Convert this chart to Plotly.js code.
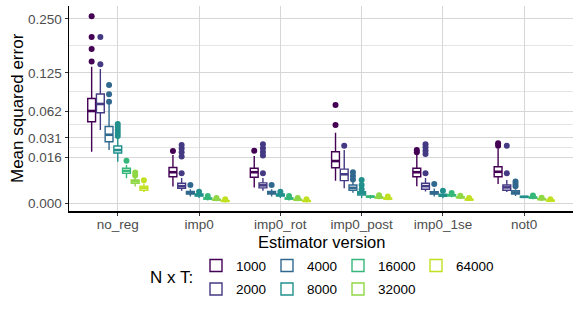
<!DOCTYPE html>
<html>
<head>
<meta charset="utf-8">
<script src="https://cdn.plot.ly/plotly-3.0.1.min.js"></script>
<style>html,body{margin:0;padding:0;background:#fff;}#chart{width:581px;height:309px;}</style>
</head>
<body>
<div id="chart"></div>
<script>
// Estimator versions (x categories)
const categories = ['no_reg','imp0','imp0_rot','imp0_post','imp0_1se','not0'];
// N x T groups
const nxt = ['1000','2000','4000','8000','16000','32000','64000'];
const colors = ['#440154','#443A83','#31688E','#21908C','#35B779','#8FD744','#C2E022'];

// Box statistics (mean squared error), rows = N x T group, columns = category
const lowerFence = [
  [0.0194, 0.0020, 0.0018, 0.0037, 0.0021, 0.0027],
  [0.0394, 0.0011, 0.0011, 0.0016, 0.00098, 0.0009],
  [0.0207, 0.00031, 0.00031, 0.00078, 0.00031, 0.00036],
  [0.0126, 0.00018, 0.00018, 0.00018, 0.000163, 0.00018],
  [0.0045, 0.00005, 0.00005, 0.00013, 0.00025, 0.0001],
  [0.0020, 0.00002, 0.00002, 0.0001, 0.00012, 0.00005],
  [0.0009, 0.000005, 0.000005, 0.00006, 0.00003, 0.00001]
];
const q1 = [
  [0.0488, 0.0051, 0.0049, 0.0092, 0.0051, 0.0051],
  [0.0602, 0.0016, 0.0017, 0.0037, 0.0014, 0.0012],
  [0.0277, 0.0006, 0.0006, 0.0012, 0.0006, 0.0006],
  [0.0185, 0.00036, 0.00036, 0.00047, 0.00033, 0.00025],
  [0.0065, 0.00012, 0.00012, 0.00026, 0.00038, 0.00018],
  [0.0029, 0.00006, 0.00006, 0.00018, 0.0002, 0.00009],
  [0.0012, 0.00002, 0.00002, 0.00011, 0.00007, 0.00003]
];
const median = [
  [0.0625, 0.0070, 0.0070, 0.0130, 0.0070, 0.0072],
  [0.0724, 0.0021, 0.0023, 0.0061, 0.0021, 0.0018],
  [0.0344, 0.00077, 0.0008, 0.0017, 0.00074, 0.00081],
  [0.0207, 0.00047, 0.00047, 0.00069, 0.00044, 0.00028],
  [0.0076, 0.00015, 0.00015, 0.0003, 0.00044, 0.00022],
  [0.0035, 0.00008, 0.00008, 0.00022, 0.00024, 0.00011],
  [0.0017, 0.00003, 0.00003, 0.00014, 0.00009, 0.00004]
];
const q3 = [
  [0.0806, 0.0093, 0.0089, 0.0194, 0.0089, 0.0097],
  [0.0877, 0.0029, 0.0030, 0.0085, 0.0029, 0.0024],
  [0.0432, 0.00098, 0.001, 0.0024, 0.00094, 0.0011],
  [0.0240, 0.0006, 0.0006, 0.00094, 0.00056, 0.00031],
  [0.0089, 0.00019, 0.00019, 0.00034, 0.0005, 0.00026],
  [0.0039, 0.0001, 0.0001, 0.00026, 0.00027, 0.00013],
  [0.0021, 0.00004, 0.00004, 0.00017, 0.00011, 0.00006]
];
const upperFence = [
  [0.1372, 0.0170, 0.0163, 0.0365, 0.0170, 0.0220],
  [0.1326, 0.0046, 0.0046, 0.0207, 0.0046, 0.0039],
  [0.0724, 0.0014, 0.0014, 0.0033, 0.00155, 0.0014],
  [0.0312, 0.00074, 0.00074, 0.00115, 0.00069, 0.0004],
  [0.0107, 0.00026, 0.00026, 0.00048, 0.0006, 0.00032],
  [0.0046, 0.00014, 0.00014, 0.00035, 0.00033, 0.00016],
  [0.0028, 0.00007, 0.00007, 0.00024, 0.00014, 0.00008]
];
const outliers = [
  [[0.1479,0.1751,0.2035,0.2574],[0.0200],[0.0202],[0.0449,0.0709],[0.0190,0.0207],[0.0242,0.0263]],
  [[0.1423,0.2035],[0.0065,0.0160,0.0190,0.0219,0.0248],[0.0065,0.0167,0.0192,0.0221,0.0254],[0.0242],[0.0065,0.0177,0.0202,0.0229,0.0254],[0.0065,0.0242]],
  [[0.0758,0.0873,0.1028],[0.0024],[0.0024],[0.0041,0.0054,0.0070],[0.0027],[0.0021,0.0027,0.0034]],
  [[0.0331,0.0362,0.0394,0.0427,0.0461],[0.00094],[0.00094],[0.0014,0.0024,0.0039],[0.0011],[]],
  [[0.0132],[0.00036],[0.00036],[],[0.00075],[0.00042]],
  [[0.0056,0.0069],[0.00019],[0.00019],[0.00045],[0.0004],[0.0002]],
  [[0.0038],[0.0001],[0.0001],[0.00032],[0.00018],[0.00011]]
];
// y tick values (sqrt scale)
const yTicks = [0, 0.015625, 0.03125, 0.0625, 0.125, 0.25];
const yTickText = ['0.000','0.016','0.031','0.062','0.125','0.250'];

const sq = v => Math.sqrt(v);
const dodge = 0.75 / nxt.length;
const boxW = dodge * 0.9;
const legendIds = ['legend','legend2','legend3','legend4','legend5','legend6','legend7'];

const traces = [];
nxt.forEach((name, g) => {
  const xs = categories.map((c, i) => i + 1 + (g - (nxt.length - 1) / 2) * dodge);
  traces.push({
    type: 'box', orientation: 'v', name: name, x: xs,
    q1: q1[g].map(sq), median: median[g].map(sq), q3: q3[g].map(sq),
    lowerfence: lowerFence[g].map(sq), upperfence: upperFence[g].map(sq),
    boxpoints: false, width: boxW, whiskerwidth: 0,
    line: {color: colors[g], width: 1.4}, fillcolor: '#ffffff',
    legend: legendIds[g], hoverinfo: 'skip'
  });
  // thicker median bars, as in the reference
  const mx = [], my = [];
  xs.forEach((x, i) => { mx.push(x - boxW / 2, x + boxW / 2, null); const m = sq(median[g][i]); my.push(m, m, null); });
  traces.push({
    type: 'scatter', mode: 'lines', x: mx, y: my, showlegend: false,
    line: {color: colors[g], width: 2.6}, hoverinfo: 'skip'
  });
  const ox = [], oy = [];
  outliers[g].forEach((arr, i) => arr.forEach(v => { ox.push(xs[i]); oy.push(sq(v)); }));
  traces.push({
    type: 'scatter', mode: 'markers', x: ox, y: oy, showlegend: false,
    marker: {color: colors[g], size: 6}, hoverinfo: 'skip'
  });
});

const sqTicks = yTicks.map(sq);
const minorVals = [];
for (let i = 1; i < sqTicks.length - 1; i++) minorVals.push((sqTicks[i] + sqTicks[i + 1]) / 2);

const font = 'Liberation Sans, Arial, sans-serif';
const layout = {
  width: 581, height: 309,
  margin: {l: 69, r: 8, t: 6, b: 98, autoexpand: false},
  paper_bgcolor: '#ffffff', plot_bgcolor: '#ffffff',
  font: {family: font, color: '#000'},
  showlegend: true, hovermode: false, boxmode: 'overlay',
  xaxis: {
    type: 'linear', autorange: false,
    range: [0.4, 6.6], tickmode: 'array', tickvals: categories.map((c, i) => i + 1), ticktext: categories,
    showgrid: true, gridcolor: '#d6d6d6', gridwidth: 1, zeroline: false,
    showline: true, linecolor: '#000', linewidth: 1.5,
    ticks: 'outside', ticklen: 3, tickcolor: '#333', tickwidth: 1, ticklabelstandoff: -3,
    tickfont: {size: 13.5, color: '#4d4d4d'}
  },
  yaxis: {
    type: 'linear', autorange: false,
    range: [-0.0217, 0.5353], tickmode: 'array', tickvals: sqTicks, ticktext: yTickText,
    showgrid: true, gridcolor: '#d6d6d6', gridwidth: 1, zeroline: false,
    showline: true, linecolor: '#000', linewidth: 1.5,
    ticks: 'outside', ticklen: 3, tickcolor: '#333', tickwidth: 1,
    tickfont: {size: 13.5, color: '#4d4d4d'},
    minor: {tickmode: 'array', tickvals: minorVals, showgrid: true, gridcolor: '#dedede', gridwidth: 0.8, ticks: ''}
  },
  annotations: [
    {text: 'Estimator version', xref: 'paper', yref: 'paper', showarrow: false,
     x: 0.5, xanchor: 'center', y: (211 - 242.5) / 205, yanchor: 'middle',
     font: {size: 16.5, color: '#000'}},
    {text: 'Mean squared error', xref: 'paper', yref: 'paper', showarrow: false, textangle: -90,
     x: (17 - 69) / 504, xanchor: 'center', y: (211 - 108) / 205, yanchor: 'middle',
     font: {size: 17, color: '#000'}},
    {text: 'N x T:', xref: 'paper', yref: 'paper', showarrow: false,
     x: (148 - 69) / 504, xanchor: 'left', y: (211 - 277) / 205, yanchor: 'middle',
     font: {size: 17, color: '#000'}}
  ]
};
const legX = [196, 196, 267, 267, 338, 338, 416];
const legY = [265.7, 289.3, 265.7, 289.3, 265.7, 289.3, 265.7];
legendIds.forEach((id, g) => {
  layout[id] = {
    xref: 'container', yref: 'container',
    x: legX[g] / 581, y: 1 - legY[g] / 309, xanchor: 'left', yanchor: 'middle',
    orientation: 'v', bgcolor: 'rgba(0,0,0,0)', borderwidth: 0,
    font: {size: 13.5, color: '#000', family: font}
  };
});

Plotly.newPlot('chart', traces, layout, {displayModeBar: false, staticPlot: true});
</script>
</body>
</html>
